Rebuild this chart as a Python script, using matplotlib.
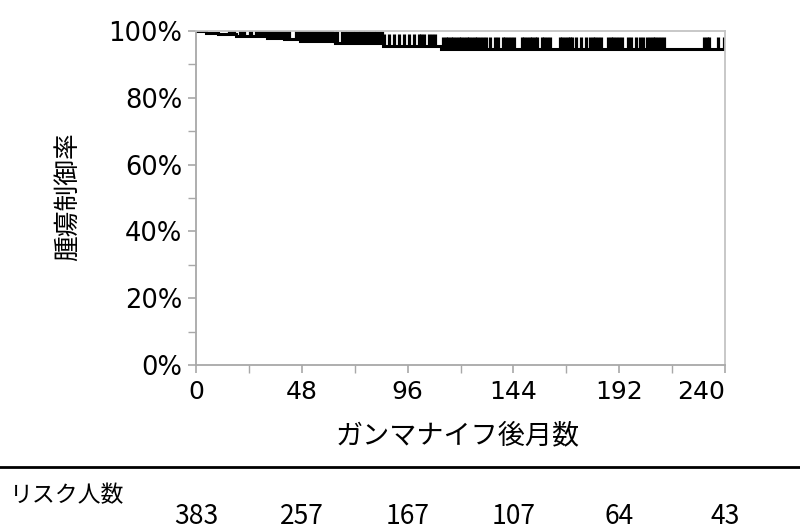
import numpy as np
import matplotlib
matplotlib.use("Agg")
import matplotlib.pyplot as plt
from matplotlib.lines import Line2D
from matplotlib.ticker import MultipleLocator, FuncFormatter
import matplotlib.transforms as mtransforms

plt.rcParams['font.family'] = ['Noto Sans CJK JP', 'DejaVu Sans']

# Kaplan-Meier steps (months, survival fraction)
event_times = [0, 4.5, 10, 18, 32, 40, 47, 63, 85, 111]
survival = [1.0, 0.995, 0.99, 0.985, 0.980, 0.975, 0.970, 0.963, 0.955, 0.946]
end_time = 240

# censored observations (months)
censor_times = [
    15, 16.2, 17.3, 19.8, 21, 22, 24.3, 25, 27, 28.2, 29.4, 30.6, 31.8, 33, 34.2,
    35.4, 36.6, 37.8, 38.8, 40, 41.2, 42.4, 45.5, 46.7, 47.9, 49.1, 50.3, 51.5,
    52.7, 53.7, 54.6, 55.8, 57, 58.2, 59.4, 60.6, 61.8, 63.2, 64, 66.3, 67.5,
    68.7, 69.9, 71.1, 72.3, 73.5, 74.4, 75.6, 76.8, 78, 79.2, 80.6, 81.8, 83,
    84.2, 85.4, 87.5, 89.8, 92, 94.3, 96.6, 98.9, 101, 102.2, 103.5, 105.5, 107,
    108.5, 112, 113.2, 114.4, 115.6, 116.8, 118, 119.2, 120.4, 121.6, 122.8, 124,
    125.2, 126.4, 127.6, 128.8, 130.2, 131.5, 133.5, 135.5, 136.8, 139.2, 140.4,
    141.6, 142.8, 144.2, 147.8, 149, 150.2, 151.4, 152.6, 153.8, 154.8, 156.8,
    158, 159.2, 160.6, 165, 166.2, 167.4, 168.6, 169.8, 170.8, 172.5, 174.5, 177,
    178.8, 180, 181.2, 182.4, 183.6, 187, 188.2, 189.4, 190.6, 191.8, 193.2,
    195.8, 197.5, 199.5, 201.4, 202.8, 204.8, 206, 207.2, 208.4, 209.6, 210.8,
    212.2, 230.6, 231.8, 232.8, 237, 239.6,
]

x_ticks = [0, 48, 96, 144, 192, 240]
y_ticks = [0, 0.2, 0.4, 0.6, 0.8, 1.0]
risk_times = [0, 48, 96, 144, 192, 240]
risk_counts = [383, 257, 167, 107, 64, 43]

ylabel = '腫瘍制御率'
xlabel = 'ガンマナイフ後月数'
risk_label = 'リスク人数'

W, H = 800, 531
fig = plt.figure(figsize=(W / 100, H / 100), dpi=100)
ax = fig.add_axes([196 / W, 1 - 365 / H, (725 - 196) / W, (365 - 31) / H])

# KM curve
ax.step(event_times + [end_time], survival + [survival[-1]], where='post',
        color='black', lw=2.2, solid_joinstyle='miter')

# censor marks
ev = np.array(event_times)
sv = np.array(survival)
ct = np.array(censor_times)
cy = sv[np.searchsorted(ev, ct, side='right') - 1]
ax.vlines(ct, cy, cy + 0.036, color='black', lw=2.3)

ax.set_xlim(0, 240)
ax.set_ylim(0, 1.0)

ax.set_xticks(x_ticks)
ax.xaxis.set_minor_locator(MultipleLocator(24))
ax.set_yticks(y_ticks)
ax.yaxis.set_minor_locator(MultipleLocator(0.1))
ax.yaxis.set_major_formatter(FuncFormatter(lambda v, p: f'{v*100:.0f}%'))

gray = '#a8a8a8'
for s in ['left', 'bottom']:
    ax.spines[s].set_color(gray)
    ax.spines[s].set_linewidth(1.3)
for s in ['top', 'right']:
    ax.spines[s].set_color('#c4c4c4')
    ax.spines[s].set_linewidth(1.3)

ax.tick_params(which='major', direction='out', length=6, width=1.2, color=gray)
ax.tick_params(which='minor', direction='out', length=6, width=1.0, color=gray)
ax.tick_params(axis='x', which='major', pad=5)
ax.tick_params(axis='y', which='major', pad=4)
xlabs = ax.get_xticklabels()
for lab in xlabs:
    lab.set_fontsize(18)
    lab.set_family(['DejaVu Sans'])
xlabs[-1].set_horizontalalignment('right')
for lab in ax.get_yticklabels():
    lab.set_fontsize(18.5)
    lab.set_family(['DejaVu Sans'])

fig.text(68 / W, 1 - 197 / H, ylabel, rotation=90, ha='center', va='center',
         fontsize=18.5)
fig.text(458 / W, 1 - 436 / H, xlabel, ha='center', va='center', fontsize=19.5)

fig.add_artist(Line2D([0, 1], [1 - 467 / H] * 2, transform=fig.transFigure,
                      color='black', lw=2))

fig.text(10 / W, 1 - 496 / H, risk_label, ha='left', va='center', fontsize=16.5)
trans = mtransforms.blended_transform_factory(ax.transData, fig.transFigure)
for t, n in zip(risk_times, risk_counts):
    ax.text(t, 1 - 516 / H, str(n), transform=trans, ha='center', va='center',
            fontsize=19, clip_on=False)

fig.savefig('out.png', dpi=100)
